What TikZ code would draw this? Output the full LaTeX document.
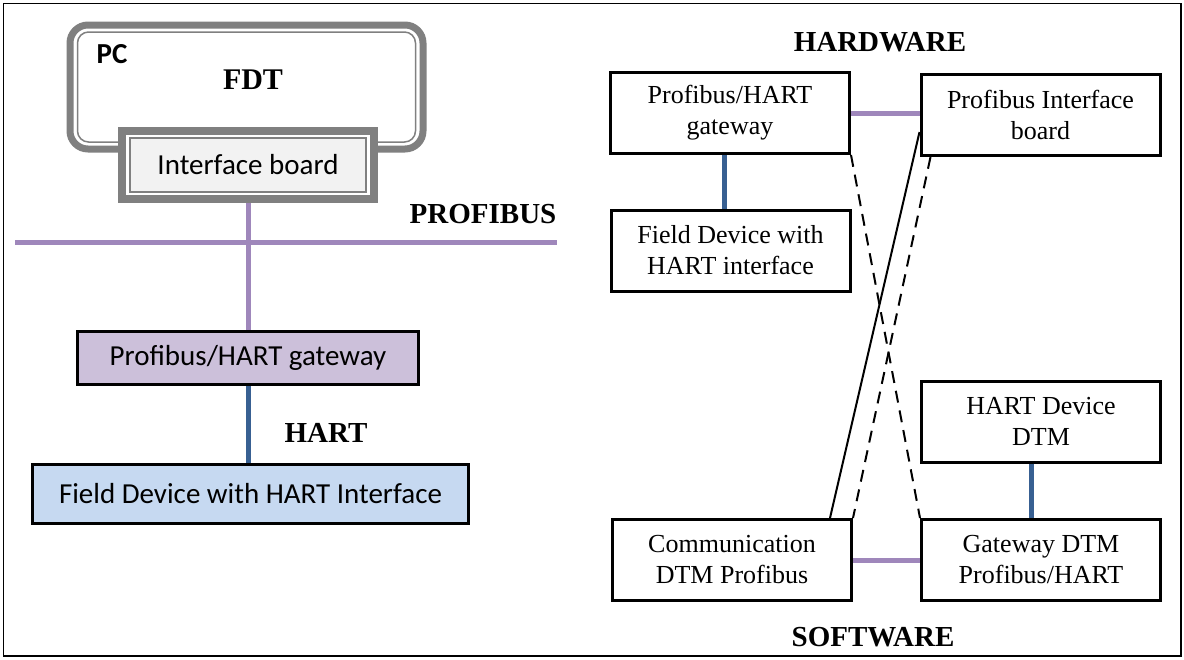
\documentclass[tikz,border=0pt]{standalone}
\usepackage{fontspec}
\setmainfont{Liberation Serif}
\newfontfamily\calibri{Carlito}
\usetikzlibrary{positioning,calc}

\definecolor{busviolet}{RGB}{159,135,187}
\definecolor{hartblue}{RGB}{56,96,146}
\definecolor{gwfill}{RGB}{204,192,218}
\definecolor{fdfill}{RGB}{198,217,241}
\definecolor{frame}{RGB}{128,128,128}

\begin{document}
\begin{tikzpicture}[x=1pt,y=-1pt,
    hwbox/.style={draw,line width=3pt,minimum width=239pt,minimum height=81pt,align=center,
                  font=\fontsize{26}{31}\selectfont},
    filledbox/.style={draw,line width=3pt,font=\calibri\fontsize{29}{34}\selectfont},
    profibus/.style={busviolet,line width=5pt},
    hart/.style={hartblue,line width=5pt},
    title/.style={font=\bfseries\fontsize{29}{34}\selectfont}]
    \useasboundingbox (0,0) rectangle (1184,659);
    \draw[line width=1.5pt] (3.5,3.5) rectangle (1181,656);

    % left side: plant
    \node[draw=frame,line width=7pt,rounded corners=18pt,minimum width=353pt,minimum height=124pt] (pc) at (246.5,87) {};
    \node[draw=frame,line width=1.5pt,rounded corners=11pt,minimum width=338pt,minimum height=110pt] (pcin) at (246.5,87) {};
    \node[font=\calibri\bfseries\fontsize{29}{34}\selectfont] (pclabel) at (112,54) {PC};
    \node[title,font=\bfseries\fontsize{30}{34}\selectfont] (fdt) at (253,80) {FDT};
    \node[draw=frame,fill=white,line width=8pt,minimum width=252pt,minimum height=68pt] (ibout) at (248,165) {};
    \node[draw=frame,fill=black!5,line width=1.5pt,minimum width=236pt,minimum height=54pt,
          font=\calibri\fontsize{29}{34}\selectfont] (ib) at (248,165) {Interface board};

    \coordinate (busL) at (15,242);
    \coordinate (busR) at (557,242);
    \node[title] (bus) at (483,214) {PROFIBUS};

    \node[filledbox,fill=gwfill,minimum width=341pt,minimum height=53pt] (gw) at (248,358) {Profibus/HART gateway};
    \node[filledbox,fill=fdfill,minimum width=436pt,minimum height=59pt] (fd) at (250.5,494) {Field Device with HART Interface};
    \node[title] (hartlabel) at (326,433) {HART};

    \draw[profibus] (busL) -- (busR);
    \draw[profibus] (ibout.south) -- (gw.north);
    \draw[hart] (gw.south) -- (gw.south |- fd.north);

    % right side: hardware and software
    \node[title] (hw) at (880,42) {HARDWARE};
    \node[hwbox] (ga) at (730,113) {Profibus/HART\\gateway};
    \node[hwbox] (pib) at (1040.5,115) {Profibus Interface\\board};
    \node[hwbox] (fdh) at (730.5,250.5) {Field Device with\\HART interface};
    \node[hwbox] (hdd) at (1041,421.5) {HART Device\\DTM};
    \node[hwbox] (cdp) at (732,560) {Communication\\DTM Profibus};
    \node[hwbox] (gdp) at (1041,560) {Gateway DTM\\Profibus/HART};
    \node[title] (sw) at (873,637) {SOFTWARE};

    \draw[profibus] (ga.east) -- (ga.east -| pib.west);
    \draw[hart] ([xshift=-6pt]ga.south) -- ([xshift=-6pt]ga.south |- fdh.north);
    \draw[profibus] (cdp.east) -- (cdp.east -| gdp.west);
    \draw[hart] ([xshift=-10pt]hdd.south) -- ([xshift=-10pt]gdp.north);

    \draw[line width=2pt] ($(pib.west)+(0,17)$) -- ($(cdp.north east)+(-23,0)$);
    \draw[line width=2pt,dash pattern=on 12pt off 8pt] (ga.south east) -- (gdp.north west);
    \draw[line width=2pt,dash pattern=on 12pt off 8pt] ($(pib.south west)+(11,0)$) -- (cdp.north east);
\end{tikzpicture}
\end{document}
